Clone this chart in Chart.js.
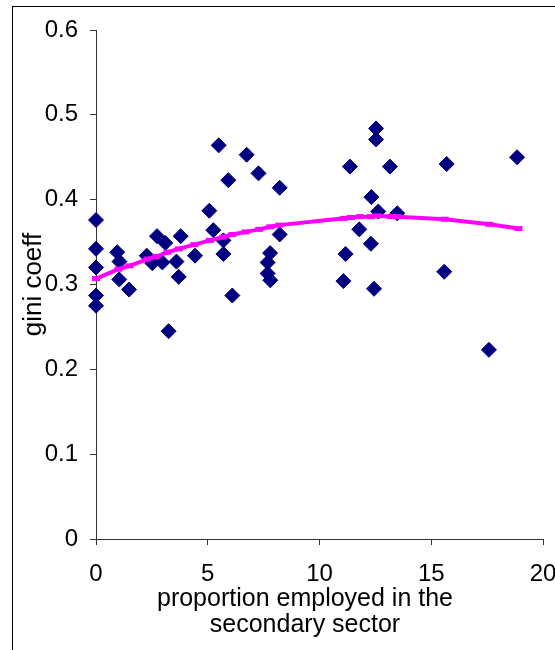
<!DOCTYPE html>
<html>
<head>
<meta charset="utf-8">
<script src="https://cdn.jsdelivr.net/npm/chart.js@4.4.0/dist/chart.umd.min.js"></script>
<style>
html, body { margin: 0; padding: 0; overflow: hidden; background: #fff; }
#wrap { width: 610px; height: 650px; }
</style>
</head>
<body>
<div id="wrap"><canvas id="gini" width="610" height="650"></canvas></div>
<script>
// points
const propSecondary = [0, 0, 0, 0, 0,
  0.95, 1.05, 1.04, 1.48,
  2.27, 2.52, 2.73, 3.1, 2.97, 3.25,
  3.79, 3.6, 3.7, 4.43,
  5.07, 5.25, 5.7, 5.7, 5.49, 5.92, 6.74, 7.27, 6.1, 8.22, 8.22,
  7.79, 7.68, 7.68, 7.8,
  11.07, 11.17, 11.36, 11.78, 12.3, 12.32, 12.44, 12.53, 12.53, 12.63, 13.15, 13.48,
  15.58, 15.69, 17.58, 18.84];
const giniCoeff = [0.376, 0.342, 0.320, 0.287, 0.275,
  0.338, 0.327, 0.306, 0.294,
  0.334, 0.325, 0.357, 0.349, 0.326, 0.245,
  0.357, 0.327, 0.309, 0.334,
  0.387, 0.364, 0.352, 0.336, 0.464, 0.423, 0.453, 0.431, 0.287, 0.414, 0.359,
  0.337, 0.326, 0.313, 0.305,
  0.304, 0.336, 0.439, 0.365, 0.348, 0.403, 0.295, 0.484, 0.471, 0.386, 0.439, 0.384,
  0.315, 0.442, 0.223, 0.450];

// trend line as drawn
const trendX = [0, 1, 1.5, 2.3, 2.7, 3.2, 3.7, 4.4, 5.1, 5.7, 6.1, 6.7, 7.3, 7.8, 8.2,
  11.1, 11.4, 11.8, 12.3, 12.6, 13.2, 13.5, 15.6, 17.6, 18.9];
const trendY = [0.307, 0.318, 0.322, 0.330, 0.333, 0.338, 0.342, 0.347, 0.352, 0.356, 0.359, 0.362, 0.365, 0.368, 0.370,
  0.378, 0.379, 0.380, 0.380, 0.381, 0.380, 0.380, 0.377, 0.371, 0.366];

const xTitle = ['proportion employed in the', 'secondary sector'];
const yTitle = 'gini coeff';

// outer frame of the chart object, runs off the right and bottom edge
const frame = {
  id: 'frame',
  beforeDraw(chart) {
    const c = chart.ctx;
    c.save();
    c.fillStyle = '#fff';
    c.fillRect(0, 0, chart.width, chart.height);
    c.strokeStyle = '#000';
    c.lineWidth = 1;
    c.strokeRect(12.5, 6.5, 800, 800);
    c.restore();
  }
};

Chart.defaults.font.family = 'Arial, "Liberation Sans", sans-serif';
Chart.defaults.color = '#000';

new Chart(document.getElementById('gini'), {
  type: 'scatter',
  data: {
    datasets: [{
      data: trendX.map((x, i) => ({x: x, y: trendY[i]})),
      showLine: true,
      borderColor: '#ff00ff',
      borderWidth: 4,
      backgroundColor: '#ff00ff',
      pointStyle: 'line',
      pointRadius: 4,
      pointBorderWidth: 5,
      pointBorderColor: '#ff00ff',
      clip: false,
      order: 0
    }, {
      data: propSecondary.map((x, i) => ({x: x, y: giniCoeff[i]})),
      backgroundColor: '#000080',
      borderColor: '#000080',
      borderWidth: 1,
      pointStyle: 'rectRot',
      pointRadius: 7.5,
      clip: false,
      order: 1
    }]
  },
  options: {
    responsive: false,
    animation: false,
    layout: { padding: { left: 0, top: 30, right: 0, bottom: 0 } },
    plugins: {
      legend: { display: false },
      tooltip: { enabled: false },
      title: {
        display: true,
        position: 'bottom',
        text: xTitle,
        color: '#000',
        font: { size: 25, weight: 'normal', lineHeight: 26 / 25 },
        padding: { top: 0, bottom: 12 }
      }
    },
    scales: {
      x: {
        type: 'linear',
        min: 0, max: 20,
        ticks: { stepSize: 5, padding: 15, maxRotation: 0, font: { size: 24 } },
        grid: { drawOnChartArea: false, tickLength: 6, color: '#333' },
        border: { color: '#333' },
        afterFit(s) { s.height = 47; }
      },
      y: {
        min: 0, max: 0.6,
        ticks: { stepSize: 0.1, padding: 12, font: { size: 24 } },
        grid: { drawOnChartArea: false, tickLength: 6, color: '#333' },
        border: { color: '#333' },
        title: { display: true, text: yTitle, font: { size: 26 }, padding: { top: 18 } },
        afterFit(s) { s.width = 96; }
      },
      // empty right-hand strip, keeps the plot at x = 543 and the title centred
      spacer: {
        position: 'right',
        min: 0, max: 1,
        ticks: { display: false },
        grid: { display: false },
        border: { display: false },
        afterFit(s) { s.width = 67; }
      }
    }
  },
  plugins: [frame]
});
</script>
</body>
</html>
